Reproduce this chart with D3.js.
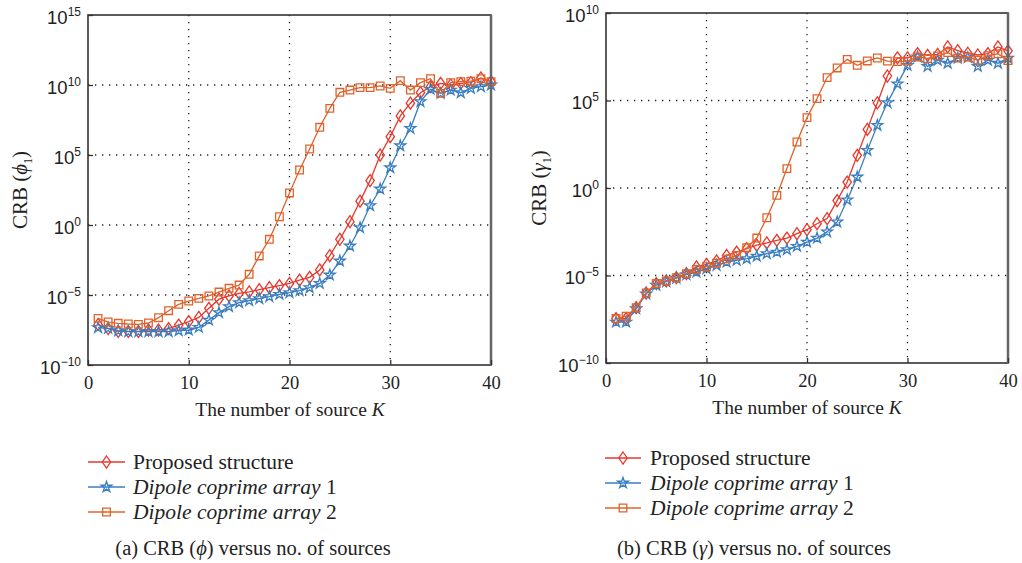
<!DOCTYPE html>
<html><head><meta charset="utf-8">
<script src="https://cdn.jsdelivr.net/npm/d3@7"></script>
<style>body{margin:0;background:#fff;} svg{display:block;font-family:"Liberation Serif","DejaVu Serif",serif;}</style>
</head><body>
<svg id="chart" width="1022" height="563"></svg>
<script>
// ---------- data (log10 of CRB) ----------
const sources = [1,2,3,4,5,6,7,8,9,10,11,12,13,14,15,16,17,18,19,20,21,22,23,24,25,26,27,28,29,30,31,32,33,34,35,36,37,38,39,40];
const seriesNames = ["Proposed structure", "Dipole coprime array 1", "Dipole coprime array 2"];
const xTicks = [0, 10, 20, 30, 40];
const phiYTicks = [-10, -5, 0, 5, 10, 15];
const gammaYTicks = [-10, -5, 0, 5, 10];

const phiProposed = [-7.1,-7.4,-7.6,-7.6,-7.6,-7.5,-7.5,-7.4,-7.15,-6.9,-6.6,-5.95,-5.3,-5.07,-4.88,-4.78,-4.62,-4.48,-4.33,-4.17,-3.93,-3.74,-3.21,-2.19,-1.02,0.24,1.7,3.17,5.0,6.31,7.79,8.7,9.45,9.88,10.12,10.0,10.12,10.17,10.5,10.24];
const phiDCA1 = [-7.33,-7.38,-7.55,-7.62,-7.62,-7.62,-7.62,-7.62,-7.55,-7.5,-7.31,-6.79,-6.26,-5.83,-5.55,-5.4,-5.26,-5.12,-4.95,-4.83,-4.69,-4.48,-4.17,-3.57,-2.57,-1.5,-0.19,1.38,2.57,4.09,5.66,6.9,8.81,9.69,9.4,9.64,9.45,9.76,9.88,10.0];
const phiDCA2 = [-6.67,-6.93,-7.02,-7.07,-7.1,-7.0,-6.62,-6.12,-5.67,-5.43,-5.24,-5.07,-4.79,-4.52,-4.29,-3.52,-2.21,-1.02,0.59,2.29,3.93,5.43,6.98,8.33,9.48,9.64,9.81,9.81,9.93,9.76,10.31,9.64,10.17,10.45,9.4,10.17,10.24,10.28,10.45,10.24];

const gammaProposed = [-7.46,-7.46,-6.84,-6.0,-5.46,-5.31,-5.12,-4.89,-4.51,-4.36,-4.17,-3.85,-3.66,-3.46,-3.27,-3.14,-2.99,-2.86,-2.61,-2.38,-2.04,-1.75,-0.72,0.34,1.87,3.35,4.86,6.4,7.44,7.43,7.68,7.58,7.63,8.06,7.85,7.7,7.6,7.68,8.06,7.84];
const gammaDCA1 = [-7.66,-7.66,-6.9,-6.05,-5.55,-5.35,-5.15,-4.95,-4.8,-4.61,-4.42,-4.23,-4.13,-4.04,-3.9,-3.75,-3.66,-3.52,-3.33,-3.09,-2.86,-2.51,-1.94,-0.68,0.63,2.15,3.58,4.88,5.95,7.01,7.49,6.95,7.3,7.13,7.42,7.46,6.95,7.3,7.13,7.42];
const gammaDCA2 = [-7.46,-7.33,-6.84,-6.0,-5.46,-5.31,-5.12,-4.89,-4.66,-4.5,-4.3,-4.05,-3.85,-3.41,-2.86,-1.7,-0.42,1.11,2.63,4.02,5.11,6.31,6.86,7.35,7.01,7.26,7.43,7.25,7.22,7.25,7.49,7.4,7.55,7.74,7.42,7.49,7.3,7.56,7.67,7.28];

const colors = ["#e8372b", "#3a7ebf", "#e0622a"];
const markers = ["diamond", "star", "square"];

const svg = d3.select("#chart");

function markerPath(type) {
  if (type === "diamond") return "M0,-6L4.2,0L0,6L-4.2,0Z";
  if (type === "square") return "M-3.8,-3.8H3.8V3.8H-3.8Z";
  return d3.symbol().type(d3.symbolStar).size(36)();
}

function panel(opts) {
  const {x0, x1, y0, y1, yMinExp, yMaxExp, yTicks, data, greek, titleX, titleY, legendX, legendLineX, legendY, captionX, captionY, caption} = opts;
  const g = svg.append("g");
  const x = d3.scaleLinear().domain([0, 40]).range([x0, x1]);
  const y = d3.scaleLog().domain([Math.pow(10, yMinExp), Math.pow(10, yMaxExp)]).range([y1, y0]);

  // grid (dotted)
  xTicks.filter(t => t > 0 && t < 40).forEach(t => {
    g.append("line").attr("x1", x(t)).attr("x2", x(t)).attr("y1", y0).attr("y2", y1)
      .attr("stroke", "#222").attr("stroke-width", 1.3).attr("stroke-dasharray", "1.3,5.7");
  });
  yTicks.filter(t => t > yMinExp && t < yMaxExp).forEach(t => {
    g.append("line").attr("x1", x0).attr("x2", x1).attr("y1", y(Math.pow(10, t))).attr("y2", y(Math.pow(10, t)))
      .attr("stroke", "#222").attr("stroke-width", 1.3).attr("stroke-dasharray", "1.3,5.7");
  });

  // series
  data.forEach((vals, i) => {
    const pts = sources.map((k, j) => [k, Math.pow(10, vals[j])]);
    g.append("path").datum(pts)
      .attr("fill", "none").attr("stroke", colors[i]).attr("stroke-width", 1.3)
      .attr("d", d3.line().x(d => x(d[0])).y(d => y(d[1])));
    g.selectAll(null).data(pts).enter().append("path")
      .attr("transform", d => `translate(${x(d[0])},${y(d[1])})`)
      .attr("d", markerPath(markers[i]))
      .attr("fill", "none").attr("stroke", colors[i]).attr("stroke-width", 1.3);
  });

  // frame
  g.append("rect").attr("x", x0).attr("y", y0).attr("width", x1 - x0).attr("height", y1 - y0)
    .attr("fill", "none").attr("stroke", "#333").attr("stroke-width", 1.6);
  g.append("line").attr("x1", x1).attr("x2", x1).attr("y1", y0).attr("y2", y1).attr("stroke", "#666").attr("stroke-width", 2.5);

  // axes
  const xa = g.append("g").attr("transform", `translate(0,${y1})`)
    .call(d3.axisBottom(x).tickValues(xTicks).tickSize(-5).tickPadding(11).tickFormat(d3.format("d")));
  xa.select(".domain").remove();
  xa.selectAll("line").attr("stroke", "#333").attr("stroke-width", 1.3);
  xa.selectAll("text").attr("font-size", 18.5).attr("fill", "#222").attr("font-family", "Liberation Serif, serif");

  const ya = g.append("g").attr("transform", `translate(${x0},0)`)
    .call(d3.axisLeft(y).tickValues(yTicks.map(t => Math.pow(10, t))).tickSize(-5).tickPadding(6).tickFormat(() => ""));
  ya.select(".domain").remove();
  ya.selectAll("line").attr("stroke", "#333").attr("stroke-width", 1.3);
  ya.selectAll(".tick text").each(function(d) {
    const t = d3.select(this);
    const e = Math.round(Math.log10(d));
    t.text(null).attr("font-size", 18.5).attr("fill", "#222").attr("x", -7).attr("dy", "0.45em");
    t.append("tspan").text("10");
    t.append("tspan").text(e < 0 ? "\u2212" + Math.abs(e) : String(e)).attr("font-size", 12).attr("dy", -8);
  });

  // x title
  const xt = g.append("text").attr("x", titleX).attr("y", titleY).attr("text-anchor", "middle")
    .attr("font-size", 19.5).attr("fill", "#222");
  xt.append("tspan").text("The number of source ");
  xt.append("tspan").text("K").attr("font-style", "italic");

  // y title
  const yt = g.append("text").attr("transform", `translate(${opts.ytX},${(y0 + y1) / 2}) rotate(-90)`)
    .attr("text-anchor", "middle").attr("font-size", 21).attr("fill", "#222");
  yt.append("tspan").text("CRB (");
  yt.append("tspan").text(greek).attr("font-style", "italic");
  yt.append("tspan").text("1").attr("font-size", 12).attr("dy", 5);
  yt.append("tspan").text(")").attr("dy", -5);

  // legend
  seriesNames.forEach((name, i) => {
    const ly = legendY + i * 25;
    g.append("line").attr("x1", legendLineX[0]).attr("x2", legendLineX[1]).attr("y1", ly).attr("y2", ly)
      .attr("stroke", colors[i]).attr("stroke-width", 1.3);
    g.append("path").attr("transform", `translate(${(legendLineX[0] + legendLineX[1]) / 2},${ly})`)
      .attr("d", markerPath(markers[i])).attr("fill", "none").attr("stroke", colors[i]).attr("stroke-width", 1.3);
    const lt = g.append("text").attr("x", legendX).attr("y", ly + 7).attr("font-size", 21.5).attr("fill", "#222");
    if (i === 0) {
      lt.text(name);
    } else {
      lt.append("tspan").text("Dipole coprime array").attr("font-style", "italic");
      lt.append("tspan").text(" " + (i));
    }
  });

  // caption
  const ct = g.append("text").attr("x", captionX).attr("y", captionY).attr("text-anchor", "middle")
    .attr("font-size", 20.5).attr("fill", "#222");
  ct.append("tspan").text(caption[0]);
  ct.append("tspan").text(caption[1]).attr("font-style", "italic");
  ct.append("tspan").text(caption[2]);
}

panel({x0: 88, x1: 491, y0: 15, y1: 365, yMinExp: -10, yMaxExp: 15, yTicks: phiYTicks,
  data: [phiProposed, phiDCA1, phiDCA2], greek: "\u03d5", ytX: 27,
  titleX: 290, titleY: 416, legendX: 133, legendLineX: [88, 125], legendY: 462,
  captionX: 253, captionY: 555, caption: ["(a) CRB (", "\u03d5", ") versus no. of sources"]});

panel({x0: 606, x1: 1008, y0: 13, y1: 363, yMinExp: -10, yMaxExp: 10, yTicks: gammaYTicks,
  data: [gammaProposed, gammaDCA1, gammaDCA2], greek: "\u03b3", ytX: 546,
  titleX: 807, titleY: 414, legendX: 650, legendLineX: [605, 641], legendY: 458,
  captionX: 754, captionY: 555, caption: ["(b) CRB (", "\u03b3", ") versus no. of sources"]});
</script>
</body></html>
